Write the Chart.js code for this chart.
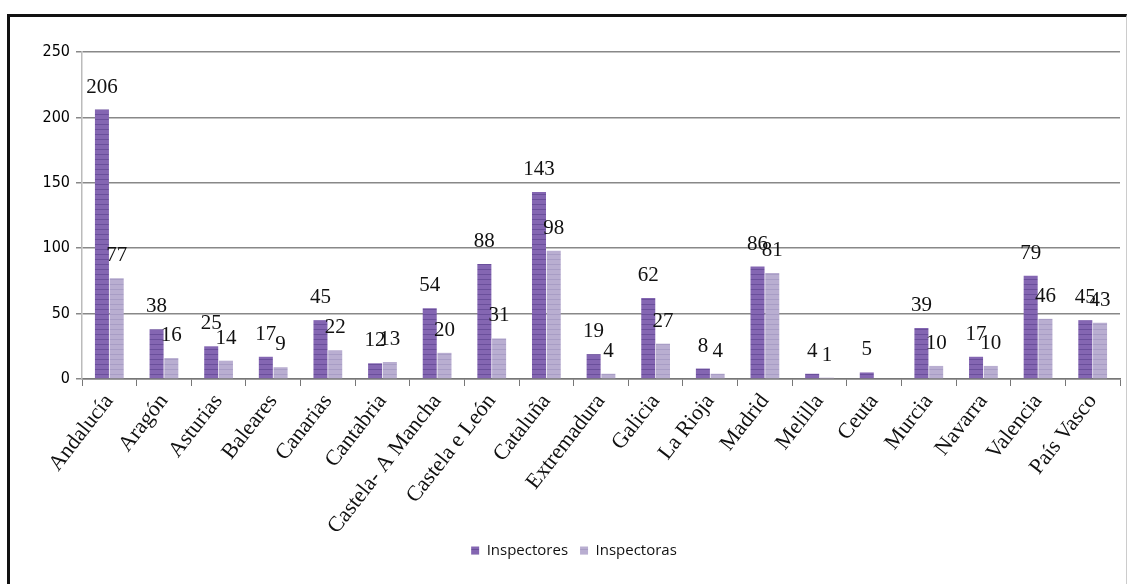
<!DOCTYPE html>
<html>
<head>
<meta charset="utf-8">
<script src="https://cdn.jsdelivr.net/npm/chart.js@4"></script>
<style>
  body { margin: 0; background: #fff; }
  #frame { position: absolute; left: 7px; top: 14px; width: 1116px; height: 580px;
           border-left: 3px solid #111; border-top: 3px solid #111; border-right: 1px solid #ccc; }
  #wrap { position: absolute; left: 0; top: 0; width: 1128px; height: 584px; }
</style>
</head>
<body>
<div id="frame"></div>
<div id="wrap"><canvas id="myChart" width="1128" height="584"></canvas></div>
<script>
// regions (x axis)
const regions = ['Andalucía', 'Aragón', 'Asturias', 'Baleares', 'Canarias', 'Cantabria',
  'Castela- A Mancha', 'Castela e León', 'Cataluña', 'Extremadura', 'Galicia', 'La Rioja',
  'Madrid', 'Melilla', 'Ceuta', 'Murcia', 'Navarra', 'Valencia', 'País Vasco'];

const inspectores = [206, 38, 25, 17, 45, 12, 54, 88, 143, 19, 62, 8, 86, 4, 5, 39, 17, 79, 45];
const inspectoras = [77, 16, 14, 9, 22, 13, 20, 31, 98, 4, 27, 4, 81, 1, null, 10, 10, 46, 43];

const yTicks = [0, 50, 100, 150, 200, 250];

// striped fill like the original bars
function stripes(base, line) {
  let c = document.createElement('canvas');
  c.width = 4; c.height = 5;
  let g = c.getContext('2d');
  g.fillStyle = base;
  g.fillRect(0, 0, 4, 5);
  g.fillStyle = line;
  g.fillRect(0, 4, 4, 1);
  return g.createPattern(c, 'repeat');
}

const darkFill = stripes('#8466b2', '#6a4f9b');
const lightFill = stripes('#b9aed1', '#a89dc5');

// numbers above the bars
const barLabels = {
  id: 'barLabels',
  afterDatasetsDraw(chart) {
    let ctx = chart.ctx;
    ctx.save();
    ctx.font = '21px "Liberation Serif", "DejaVu Serif", serif';
    ctx.fillStyle = '#111';
    ctx.textAlign = 'center';
    ctx.textBaseline = 'bottom';
    chart.data.datasets.forEach((ds, i) => {
      let meta = chart.getDatasetMeta(i);
      meta.data.forEach((bar, j) => {
        let v = ds.data[j];
        if (v == null) return;
        ctx.fillText(String(v), bar.x, bar.y - 12);
      });
    });
    ctx.restore();
  }
};

const data = {
  labels: regions,
  datasets: [
    { label: 'Inspectores', data: inspectores, backgroundColor: darkFill,
      categoryPercentage: 0.54, barPercentage: 0.95 },
    { label: 'Inspectoras', data: inspectoras, backgroundColor: lightFill,
      categoryPercentage: 0.54, barPercentage: 0.95 }
  ]
};

const config = {
  type: 'bar',
  data: data,
  options: {
    responsive: false,
    animation: false,
    layout: { padding: { left: 28, right: 8, top: 52, bottom: 16 } },
    plugins: {
      legend: {
        position: 'bottom',
        labels: {
          boxWidth: 8, boxHeight: 8, padding: 12,
          color: '#111',
          font: { family: '"Open Sans", sans-serif', size: 15 }
        }
      },
      tooltip: { enabled: false }
    },
    scales: {
      x: {
        grid: { drawOnChartArea: false, drawTicks: true, tickLength: 7, color: '#777' },
        border: { color: '#777', width: 1.5 },
        ticks: {
          autoSkip: false, maxRotation: 52, minRotation: 52, color: '#111',
          font: { family: '"Liberation Serif", "DejaVu Serif", serif', size: 22 }
        },
        afterFit(scale) { scale.height = 152; }
      },
      y: {
        min: 0, max: 250,
        afterBuildTicks(scale) { scale.ticks = yTicks.map(v => ({ value: v })); },
        grid: { color: '#888', lineWidth: 1.5, tickLength: 6 },
        border: { color: '#bbb', width: 1.5 },
        ticks: {
          color: '#000', padding: 6,
          font: { family: '"DejaVu Sans Condensed", sans-serif', size: 16 }
        },
        afterFit(scale) { scale.width = 54; }
      }
    }
  },
  plugins: [barLabels]
};

const myChart = new Chart(document.getElementById('myChart'), config);
</script>
</body>
</html>
